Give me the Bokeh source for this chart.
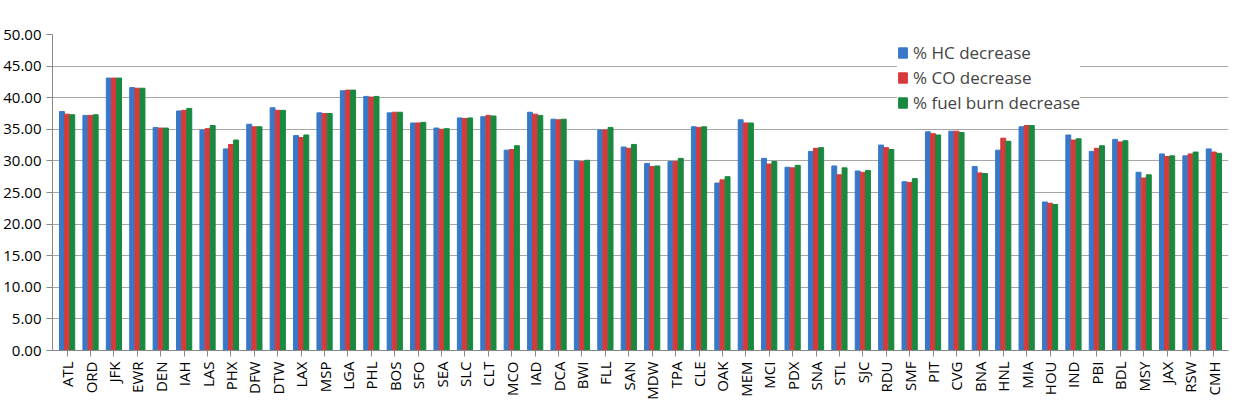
from bokeh.plotting import figure
from bokeh.models import ColumnDataSource, NumeralTickFormatter, Range1d, FactorRange
from bokeh.transform import dodge
from bokeh.embed import file_html
from bokeh.resources import INLINE

airports = ["ATL", "ORD", "JFK", "EWR", "DEN", "IAH", "LAS", "PHX", "DFW", "DTW",
            "LAX", "MSP", "LGA", "PHL", "BOS", "SFO", "SEA", "SLC", "CLT", "MCO",
            "IAD", "DCA", "BWI", "FLL", "SAN", "MDW", "TPA", "CLE", "OAK", "MEM",
            "MCI", "PDX", "SNA", "STL", "SJC", "RDU", "SMF", "PIT", "CVG", "BNA",
            "HNL", "MIA", "HOU", "IND", "PBI", "BDL", "MSY", "JAX", "RSW", "CMH"]

hc = [37.8, 37.2, 43.1, 41.6, 35.3, 37.9, 34.9, 31.9, 35.8, 38.4,
      34.0, 37.6, 41.1, 40.2, 37.6, 36.0, 35.2, 36.8, 37.0, 31.7,
      37.7, 36.6, 30.0, 34.9, 32.2, 29.6, 29.9, 35.4, 26.5, 36.5,
      30.4, 29.0, 31.5, 29.2, 28.4, 32.5, 26.7, 34.6, 34.7, 29.1,
      31.7, 35.4, 23.5, 34.1, 31.5, 33.4, 28.2, 31.1, 30.8, 31.9]
co = [37.4, 37.2, 43.1, 41.5, 35.2, 38.0, 35.1, 32.6, 35.4, 38.0,
      33.7, 37.5, 41.2, 40.1, 37.7, 36.0, 35.0, 36.7, 37.2, 31.8,
      37.4, 36.5, 29.9, 34.9, 32.0, 29.1, 29.9, 35.3, 27.0, 36.0,
      29.5, 28.9, 32.0, 27.8, 28.2, 32.1, 26.6, 34.3, 34.7, 28.1,
      33.6, 35.6, 23.3, 33.3, 32.0, 33.0, 27.3, 30.7, 31.1, 31.4]
fuel = [37.3, 37.3, 43.1, 41.5, 35.2, 38.3, 35.6, 33.3, 35.4, 38.0,
        34.1, 37.5, 41.2, 40.2, 37.7, 36.1, 35.1, 36.8, 37.1, 32.4,
        37.2, 36.6, 30.1, 35.3, 32.6, 29.2, 30.4, 35.4, 27.5, 36.0,
        29.9, 29.3, 32.1, 28.9, 28.5, 31.8, 27.2, 34.1, 34.5, 28.0,
        33.1, 35.6, 23.1, 33.5, 32.4, 33.2, 27.8, 30.8, 31.4, 31.2]

src = ColumnDataSource(dict(airport=airports, hc=hc, co=co, fuel=fuel))

p = figure(x_range=FactorRange(*airports, range_padding=0.005), width=1232, height=402,
           output_backend="svg", toolbar_location=None,
           min_border_left=10, min_border_right=4, min_border_top=34, min_border_bottom=4)
p.y_range = Range1d(0, 50)

w = 0.21
p.vbar(x=dodge("airport", -0.22, range=p.x_range), top="hc", width=w, source=src,
       color="#3778c8", legend_label="% HC decrease")
p.vbar(x=dodge("airport", 0.0, range=p.x_range), top="co", width=w, source=src,
       color="#d63a3a", legend_label="% CO decrease")
p.vbar(x=dodge("airport", 0.22, range=p.x_range), top="fuel", width=w, source=src,
       color="#18893e", legend_label="% fuel burn decrease")

p.yaxis.ticker = list(range(0, 51, 5))
p.yaxis.formatter = NumeralTickFormatter(format="0.00")
p.xaxis.major_label_orientation = 1.5708
for ax in (p.xaxis, p.yaxis):
    ax.major_label_text_font = "Open Sans"
    ax.major_label_text_font_size = "15px"
    ax.major_label_text_color = "#000000"
    ax.axis_line_color = "#888888"
    ax.major_tick_line_color = "#888888"
    ax.minor_tick_line_color = None
p.xaxis.major_tick_out = 6
p.xaxis.major_tick_in = 0
p.yaxis.major_tick_out = 6
p.yaxis.major_tick_in = 0

p.xgrid.grid_line_color = None
p.ygrid.grid_line_color = "#a6a6a6"
p.outline_line_color = None

p.legend.location = (845, 236)
p.legend.background_fill_alpha = 1.0
p.legend.border_line_color = None
p.legend.label_text_font = "Open Sans"
p.legend.label_text_font_size = "17px"
p.legend.glyph_width = 11
p.legend.glyph_height = 13
p.legend.spacing = 2
p.legend.padding = 10
p.legend.margin = 0
p.legend.label_height = 19

open("out.html", "w").write(file_html(p, INLINE))
